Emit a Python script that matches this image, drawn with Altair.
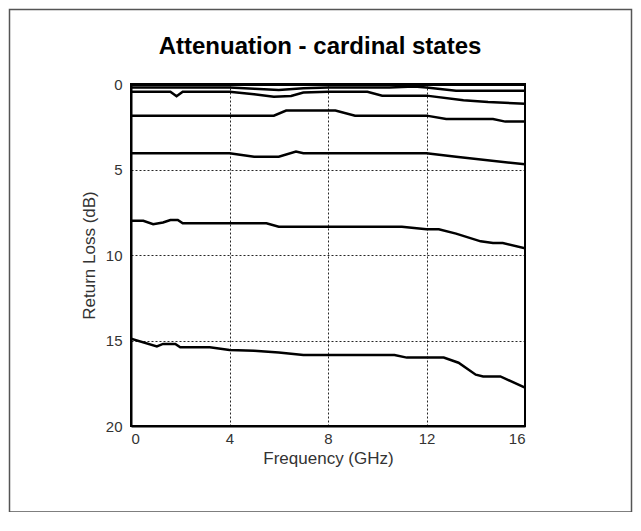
import altair as alt
import pandas as pd

# ---- data (frequency in GHz, return loss in dB) ----
freq_a = [0, 16]
loss_a = [0.05, 0.05]

freq_b = [0, 4, 5, 6, 7, 8, 10.5, 11.5, 12, 13.2, 16]
loss_b = [0.2, 0.2, 0.28, 0.35, 0.25, 0.2, 0.2, 0.15, 0.2, 0.4, 0.4]

freq_c = [0, 1.6, 1.85, 2.1, 4, 5, 5.8, 6.5, 7, 8, 9.6, 10.2, 12, 13.5, 14.5, 16]
loss_c = [0.45, 0.45, 0.72, 0.45, 0.45, 0.6, 0.75, 0.7, 0.5, 0.45, 0.45, 0.68, 0.68, 0.95, 1.05, 1.15]

freq_d = [0, 5.8, 6.3, 8.3, 9.1, 12, 12.8, 14.7, 15.2, 16]
loss_d = [1.85, 1.85, 1.55, 1.55, 1.85, 1.85, 2.05, 2.05, 2.2, 2.2]

freq_e = [0, 4, 5, 6, 6.7, 7, 12, 13.2, 16]
loss_e = [4.05, 4.05, 4.25, 4.25, 3.95, 4.05, 4.05, 4.25, 4.7]

freq_f = [0, 0.5, 0.9, 1.3, 1.6, 1.9, 2.1, 5.5, 6, 11, 12, 12.5, 13.2, 14.2, 14.7, 15.1, 16]
loss_f = [8.0, 8.0, 8.2, 8.1, 7.95, 7.95, 8.15, 8.15, 8.35, 8.35, 8.5, 8.5, 8.75, 9.2, 9.3, 9.3, 9.6]

freq_g = [0, 1.05, 1.3, 1.8, 2.0, 3.2, 4, 5, 6, 7, 10.7, 11.2, 12.7, 13.3, 14, 14.3, 15, 16]
loss_g = [14.9, 15.35, 15.2, 15.2, 15.4, 15.4, 15.55, 15.6, 15.7, 15.85, 15.85, 16.0, 16.0, 16.3, 17.0, 17.1, 17.1, 17.75]

x_ticks = [0, 4, 8, 12, 16]
y_ticks = [0, 5, 10, 15, 20]
title_text = ["Attenuation - cardinal states"]

series = [
    ("A", freq_a, loss_a), ("B", freq_b, loss_b), ("C", freq_c, loss_c),
    ("D", freq_d, loss_d), ("E", freq_e, loss_e), ("F", freq_f, loss_f),
    ("G", freq_g, loss_g),
]
rows = []
for name, fs, ls in series:
    for f, l in zip(fs, ls):
        rows.append({"series": name, "freq": f, "loss": l})
df = pd.DataFrame(rows)

FONT = "Liberation Sans"
TXT = "#333333"

lines = alt.Chart(df).mark_line(color="black", strokeWidth=2.5, clip=True).encode(
    x=alt.X(
        "freq:Q",
        scale=alt.Scale(domain=[0, 16], nice=False),
        axis=alt.Axis(values=x_ticks, title="Frequency (GHz)", labelPadding=5,
                      titlePadding=4),
    ),
    y=alt.Y(
        "loss:Q",
        scale=alt.Scale(domain=[0, 20], reverse=True, nice=False),
        axis=alt.Axis(values=y_ticks, title="Return Loss (dB)", labelPadding=9,
                      titlePadding=7),
    ),
    detail="series:N",
)

frame = alt.Chart(pd.DataFrame({"k": [0]})).mark_rect(
    fillOpacity=0, stroke="#555555", strokeWidth=1.5, clip=False
).encode(
    x=alt.value(-121.5), x2=alt.value(500.5), y=alt.value(-74.5), y2=alt.value(428),
)

title = alt.Chart(pd.DataFrame({"t": title_text})).mark_text(
    font=FONT, fontSize=24, fontWeight="bold", color="black",
    align="center", baseline="alphabetic",
).encode(
    text="t:N", x=alt.value(189), y=alt.value(-30),
)

chart = alt.layer(frame, title, lines).properties(
    width=394,
    height=342,
    autosize=alt.AutoSizeParams(type="none"),
    padding={"left": 123, "top": 76, "right": 108, "bottom": 86},
).configure_view(
    stroke="black", strokeWidth=2,
).configure_axis(
    grid=True, gridColor="black", gridDash=[2, 2], gridWidth=1, gridOpacity=0.85,
    domainColor="black", domainWidth=2, ticks=False,
    labelFont=FONT, labelFontSize=15, labelColor=TXT,
    titleFont=FONT, titleFontSize=17, titleFontWeight="normal", titleColor=TXT,
)

chart.save("out.html", embed_options={"renderer": "svg", "actions": False})
